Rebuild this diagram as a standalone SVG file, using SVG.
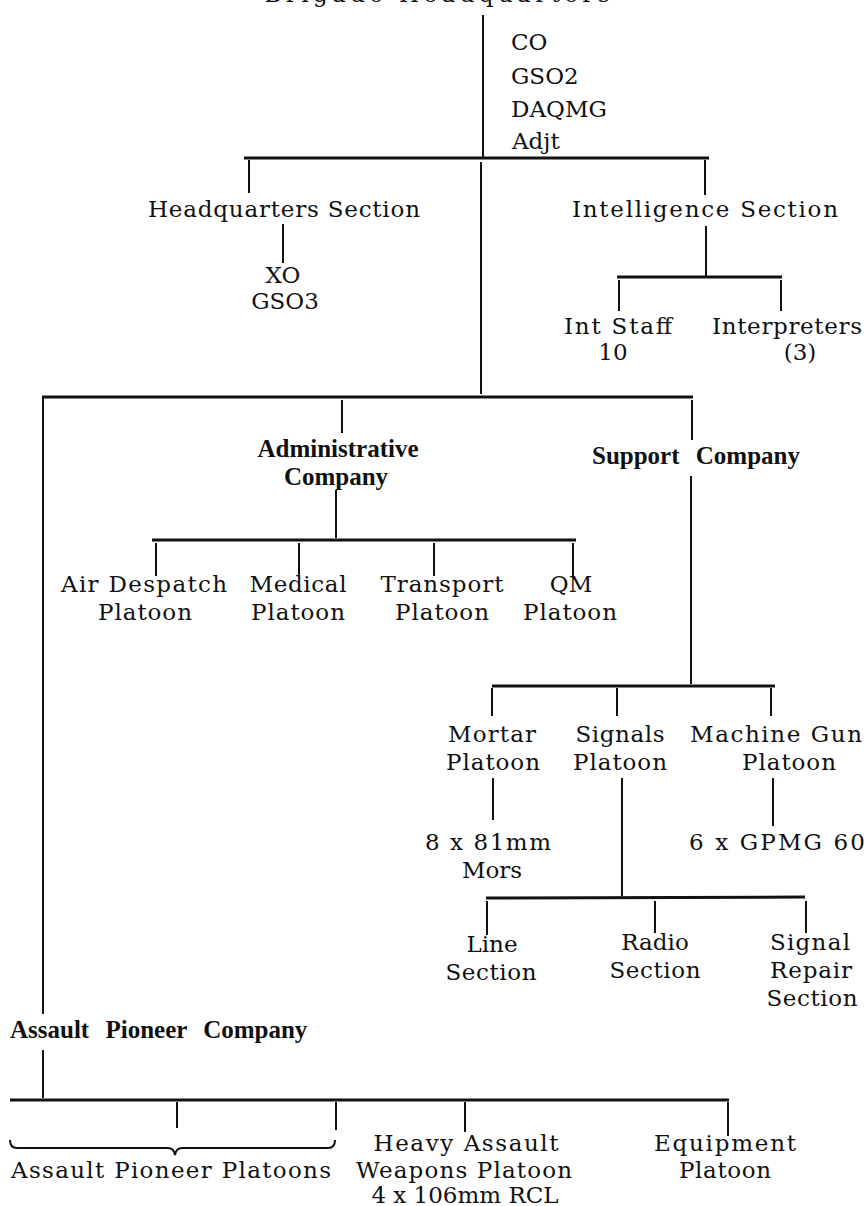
<svg xmlns="http://www.w3.org/2000/svg" width="868" height="1206" viewBox="0 0 868 1206">
<style>
text{font-family:"DejaVu Serif","Liberation Serif",serif;font-size:23px;fill:#111;text-anchor:middle}
.b{font-family:"Liberation Serif","Times New Roman",serif;font-weight:bold;font-size:25px;word-spacing:10px}
.l{text-anchor:start}
.h{stroke:#111;stroke-width:3;fill:none}
.v{stroke:#111;stroke-width:2;fill:none}
</style>
<rect width="868" height="1206" fill="#fff"/>
<g id="connectors">
<line class="v" x1="483" y1="15" x2="483" y2="158"/>
<line class="h" x1="244" y1="158" x2="709" y2="158"/>
<line class="v" x1="249" y1="160" x2="249" y2="193"/>
<line class="v" x1="283" y1="224" x2="283" y2="263"/>
<line class="v" x1="481" y1="162" x2="481" y2="394"/>
<line class="v" x1="705" y1="160" x2="705" y2="195"/>
<line class="v" x1="706" y1="226" x2="706" y2="276"/>
<line class="h" x1="617" y1="277" x2="782" y2="277"/>
<line class="v" x1="619" y1="280" x2="619" y2="311"/>
<line class="v" x1="781" y1="280" x2="781" y2="311"/>
<line class="h" x1="42" y1="397" x2="693" y2="397"/>
<line class="v" x1="43" y1="398" x2="43" y2="1014"/>
<line class="v" x1="342" y1="400" x2="342" y2="433"/>
<line class="v" x1="336" y1="490" x2="336" y2="538"/>
<line class="h" x1="152" y1="540" x2="576" y2="540"/>
<line class="v" x1="156" y1="543" x2="156" y2="576"/>
<line class="v" x1="299" y1="543" x2="299" y2="576"/>
<line class="v" x1="434" y1="543" x2="434" y2="576"/>
<line class="v" x1="573" y1="543" x2="573" y2="576"/>
<line class="v" x1="692" y1="400" x2="692" y2="440"/>
<line class="v" x1="691" y1="476" x2="691" y2="684"/>
<line class="h" x1="492" y1="686" x2="775" y2="686"/>
<line class="v" x1="492" y1="688" x2="492" y2="716"/>
<line class="v" x1="617" y1="688" x2="617" y2="716"/>
<line class="v" x1="771" y1="688" x2="771" y2="716"/>
<line class="v" x1="493" y1="778" x2="493" y2="820"/>
<line class="v" x1="773" y1="778" x2="773" y2="826"/>
<line class="v" x1="622" y1="778" x2="622" y2="896"/>
<line class="h" x1="486" y1="898" x2="805" y2="897"/>
<line class="v" x1="487" y1="901" x2="487" y2="935"/>
<line class="v" x1="655" y1="901" x2="655" y2="933"/>
<line class="v" x1="806" y1="901" x2="806" y2="933"/>
<line class="v" x1="43" y1="1050" x2="43" y2="1098"/>
<path class="h" d="M10 1100 L729 1100"/>
<line class="v" x1="177" y1="1102" x2="177" y2="1128"/>
<line class="v" x1="336" y1="1102" x2="336" y2="1130"/>
<line class="v" x1="465" y1="1102" x2="465" y2="1132"/>
<line class="v" x1="728" y1="1102" x2="728" y2="1136"/>
<path class="v" d="M10 1140 Q10 1148 17 1148 L168 1148 Q174 1148 175 1155 Q176 1148 182 1148 L328 1148 Q335 1148 335 1140"/>
</g>
<g id="title"><text x="437" y="2" textLength="345">Brigade Headquarters</text></g>
<g id="hq-staff"><text class="l" x="511" y="50">CO</text><text class="l" x="511" y="84">GSO2</text><text class="l" x="511" y="117">DAQMG</text><text class="l" x="512" y="149">Adjt</text></g>
<g id="hq-section"><text x="284" y="217" textLength="272">Headquarters Section</text></g>
<g id="xo"><text x="283" y="283">XO</text><text x="285" y="309">GSO3</text></g>
<g id="int-section"><text x="705" y="217" textLength="266">Intelligence Section</text></g>
<g id="int-staff"><text x="618" y="334" textLength="108">Int Staff</text><text x="613" y="360">10</text></g>
<g id="interpreters"><text x="787" y="334" textLength="150">Interpreters</text><text x="800" y="360">(3)</text></g>
<g id="admin-coy"><text class="b" x="338" y="457">Administrative</text><text class="b" x="336" y="485">Company</text></g>
<g id="air-despatch"><text x="144" y="592" textLength="166">Air Despatch</text><text x="145" y="620" textLength="94">Platoon</text></g>
<g id="medical"><text x="298" y="592" textLength="97">Medical</text><text x="298" y="620" textLength="94">Platoon</text></g>
<g id="transport"><text x="442" y="592" textLength="123">Transport</text><text x="442" y="620" textLength="94">Platoon</text></g>
<g id="qm"><text x="571" y="592">QM</text><text x="570" y="620" textLength="94">Platoon</text></g>
<g id="support-coy"><text class="b" x="696" y="464">Support Company</text></g>
<g id="mortar"><text x="492" y="742" textLength="88">Mortar</text><text x="493" y="770" textLength="94">Platoon</text></g>
<g id="signals"><text x="620" y="742" textLength="89">Signals</text><text x="620" y="770" textLength="94">Platoon</text></g>
<g id="mg"><text x="776" y="742" textLength="172">Machine Gun</text><text x="789" y="770" textLength="94">Platoon</text></g>
<g id="mortars"><text x="488" y="850" textLength="126">8 x 81mm</text><text x="492" y="878">Mors</text></g>
<g id="gpmg"><text x="777" y="850" textLength="176">6 x GPMG 60</text></g>
<g id="line-sec"><text x="492" y="952">Line</text><text x="491" y="980" textLength="91">Section</text></g>
<g id="radio-sec"><text x="655" y="950">Radio</text><text x="655" y="978" textLength="91">Section</text></g>
<g id="repair-sec"><text x="810" y="950" textLength="80">Signal</text><text x="811" y="978" textLength="82">Repair</text><text x="812" y="1006" textLength="91">Section</text></g>
<g id="ap-coy"><text class="b l" x="10" y="1038">Assault Pioneer Company</text></g>
<g id="ap-platoons"><text x="171" y="1178" textLength="320">Assault Pioneer Platoons</text></g>
<g id="haw"><text x="466" y="1151" textLength="185">Heavy Assault</text><text x="464" y="1178" textLength="216">Weapons Platoon</text><text x="465" y="1203">4 x 106mm RCL</text></g>
<g id="equip"><text x="725" y="1151" textLength="142">Equipment</text><text x="725" y="1178" textLength="92">Platoon</text></g>
</svg>
